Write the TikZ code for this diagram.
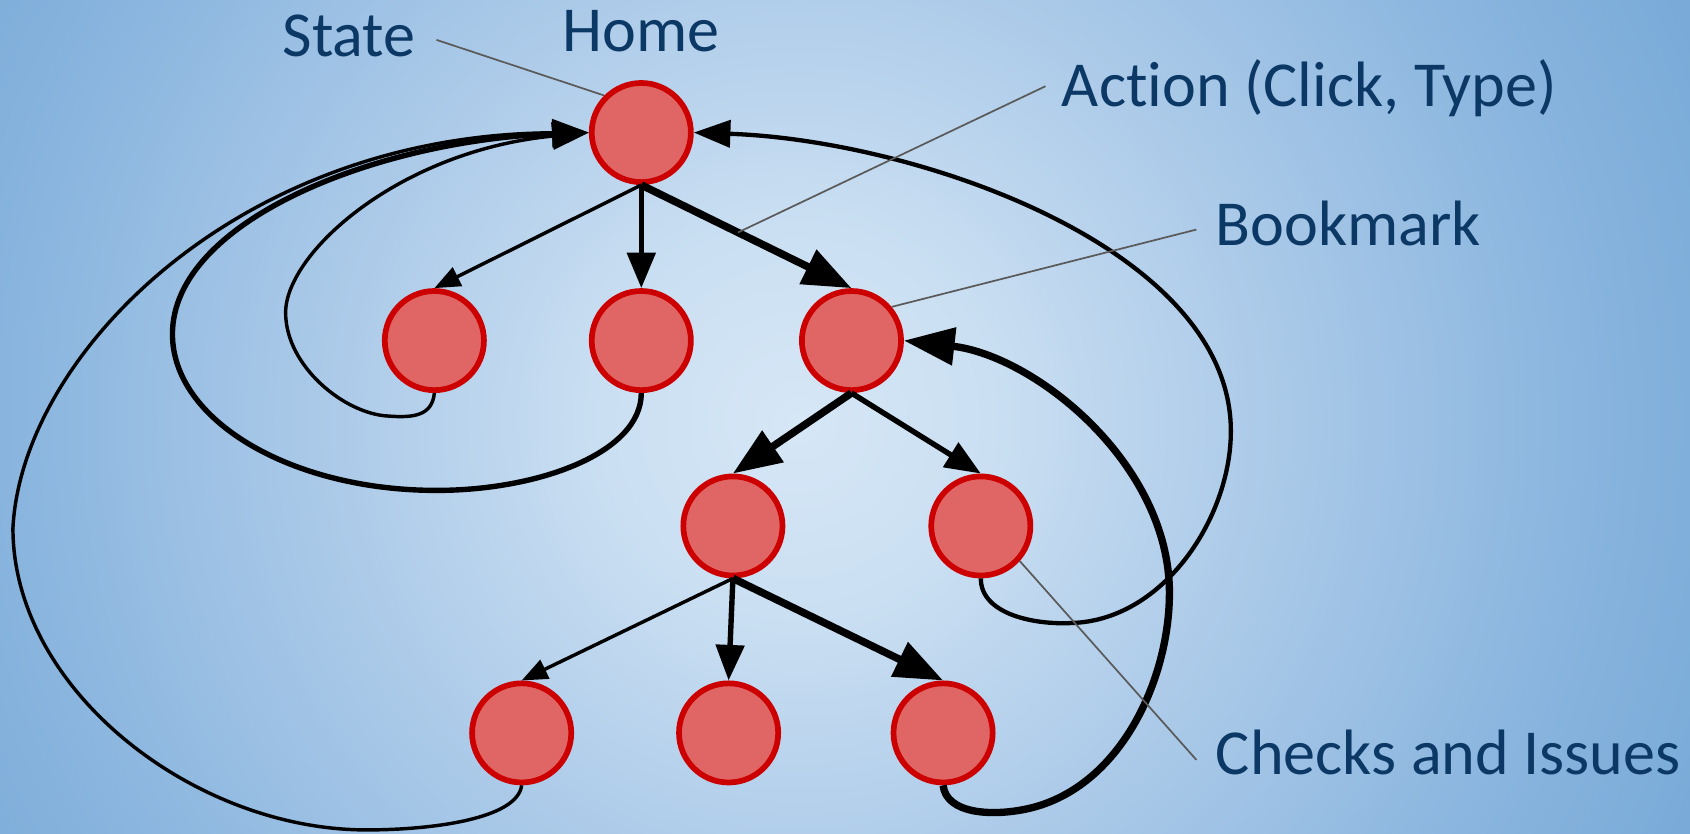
\documentclass[tikz,border=0pt]{standalone}
\usepackage{fontspec}
\newfontfamily\lab[Ligatures=NoCommon]{Carlito}
\usetikzlibrary{arrows.meta}
\definecolor{txt}{HTML}{0C3865}
\definecolor{nodefill}{HTML}{E06666}
\definecolor{nodeborder}{HTML}{CC0000}
\definecolor{callgray}{HTML}{5A5A5A}
\definecolor{bgA}{HTML}{D6E7F6}
\definecolor{bgB}{HTML}{CADFF2}
\definecolor{bgC}{HTML}{B0CDEA}
\definecolor{bgD}{HTML}{88B4DE}
\definecolor{bgE}{HTML}{7AABD8}
\pgfdeclareradialshading{bgshade}{\pgfpoint{0bp}{0bp}}{color(0bp)=(bgA); color(5bp)=(bgB); color(11bp)=(bgC); color(20.5bp)=(bgD); color(25bp)=(bgE); color(50bp)=(bgE)}
\tikzset{
  state/.style={circle, draw=nodeborder, fill=nodefill, line width=5.3pt, minimum size=92pt, inner sep=0pt},
  lbl/.style={font=\lab\fontsize{59.5}{62}\selectfont, text=txt, inner sep=0pt},
  thinedge/.style={line width=3.2pt, -{Triangle[length=24pt,width=19pt]}},
  midedge/.style={line width=5pt, -{Triangle[length=33pt,width=26pt]}},
  thickedge/.style={line width=7pt, -{Triangle[length=45pt,width=34pt]}},
  loopthin/.style={line width=3.2pt, -{Triangle[length=34pt,width=25pt]}},
  loopmid/.style={line width=5pt, -{Triangle[length=34pt,width=25pt]}},
  loopright/.style={line width=4pt, -{Triangle[length=34pt,width=25pt]}},
  loopthick/.style={line width=6.8pt, -{Triangle[length=47pt,width=34pt]}},
  callout/.style={draw=callgray, line width=1.6pt}
}
\begin{document}
\begin{tikzpicture}[x=1pt,y=-1pt]
\useasboundingbox (0,0) rectangle (1568,773);
\begin{scope}
\clip (0,0) rectangle (1568,773);
\shade[shading=bgshade] (-160,-510) rectangle (1640,1290);
\end{scope}

% nodes
\node[state] (H) at (595,123) {};
\node[state] (A) at (403,316) {};
\node[state] (B) at (595,316) {};
\node[state] (C) at (790,316) {};
\node[state] (D) at (680,488) {};
\node[state] (E) at (910,488) {};
\node[state] (F) at (484,680) {};
\node[state] (G) at (676,680) {};
\node[state] (I) at (875,680) {};

% tree edges
\draw[thinedge] (H.south) -- (A.north);
\draw[midedge] (H.south) -- (B.north);
\draw[thickedge] (H.south) -- (C.north);
\draw[thickedge] (C.south) -- (D.north);
\draw[midedge] (C.south) -- (E.north);
\draw[thinedge] (D.south) -- (F.north);
\draw[midedge] (D.south) -- (G.north);
\draw[thickedge] (D.south) -- (I.north);

% loops back to Home
\draw[loopthin] (A.south) .. controls (401,385) and (385,388) .. (360,386)
  .. controls (320,384) and (265,340) .. (265,290)
  .. controls (265,235) and (370,140) .. (H.west);
\draw[loopmid] (B.south) .. controls (595,420) and (500,455) .. (405,455)
  .. controls (270,455) and (160,390) .. (160,310)
  .. controls (160,205) and (350,130) .. (H.west);
\draw[loopthin] (F.south) .. controls (480,760) and (400,770) .. (340,770)
  .. controls (180,770) and (12,640) .. (12,490)
  .. controls (20,330) and (220,125) .. (H.west);
\draw[loopright] (E.south) .. controls (910,570) and (960,580) .. (995,578)
  .. controls (1080,575) and (1142,480) .. (1142,400)
  .. controls (1142,230) and (850,130) .. (H.east);
\draw[loopthick] (I.south) .. controls (878,755) and (920,758) .. (955,750)
  .. controls (1040,730) and (1085,630) .. (1085,550)
  .. controls (1085,430) and (960,330) .. (C.east);

% labels
\node[lbl, anchor=base west] (stateL) at (262,52) {State};
\node[lbl, anchor=base] (homeL) at (595,48) {Home};
\node[lbl, anchor=base west] (actionL) at (985,99) {Action (Click, Type)};
\node[lbl, anchor=base west] (bookL) at (1128,228) {Bookmark};
\node[lbl, anchor=base west] (checkL) at (1128,719) {Checks and Issues};

% callout lines
\coordinate (stateP) at (405,37);
\coordinate (actionP) at (970,80);
\coordinate (bookP) at (1110,213);
\coordinate (checkP) at (1110,705);
\path (H.south) -- (C.north) coordinate[pos=0.46] (actionE);
\draw[callout] (stateP) -- (H.135);
\draw[callout] (actionP) -- (actionE);
\draw[callout] (bookP) -- (C.40);
\draw[callout] (checkP) -- (E.-42);
\end{tikzpicture}
\end{document}
